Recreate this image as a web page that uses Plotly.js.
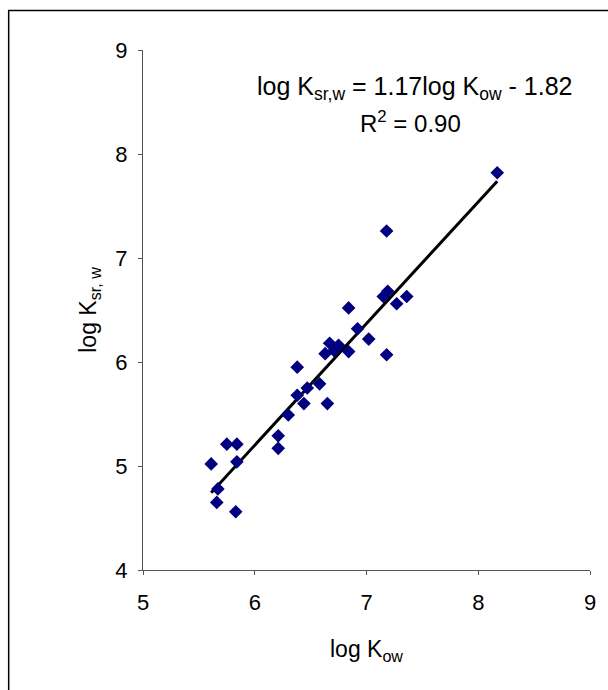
<!DOCTYPE html>
<html>
<head>
<meta charset="utf-8">
<script src="https://cdn.plot.ly/plotly-3.0.1.min.js"></script>
<style>html,body{margin:0;padding:0;background:#fff;}#chart{width:608px;height:690px;}</style>
</head>
<body>
<div id="chart"></div>
<script>
// log Kow (x) and log Ksr,w (y)
var logKow = [5.61, 5.67, 5.66, 5.75, 5.84, 5.84, 5.83, 6.21, 6.21, 6.30, 6.38, 6.38, 6.44, 6.47, 6.58, 6.65, 6.63, 6.67, 6.75, 6.71, 6.84, 6.84, 6.92, 7.02, 7.18, 7.15, 7.19, 7.18, 7.27, 7.36, 8.17];
var logKsrw = [5.02, 4.78, 4.65, 5.21, 5.21, 5.04, 4.56, 5.29, 5.17, 5.49, 5.95, 5.68, 5.60, 5.75, 5.79, 5.60, 6.08, 6.18, 6.16, 6.11, 6.10, 6.52, 6.32, 6.22, 6.07, 6.63, 6.68, 7.26, 6.56, 6.63, 7.82];
var slope = 1.17, intercept = -1.82;
var xTicks = [5, 6, 7, 8, 9];
var yTicks = [4, 5, 6, 7, 8, 9];

var xmin = Math.min.apply(null, logKow), xmax = Math.max.apply(null, logKow);
var fitX = [xmin, xmax];
var fitY = fitX.map(function (v) { return slope * v + intercept; });

var font = "Liberation Sans, Arial, sans-serif";
var traces = [
  {x: fitX, y: fitY, mode: 'lines', type: 'scatter', line: {color: '#000', width: 3}, hoverinfo: 'skip'},
  {x: logKow, y: logKsrw, mode: 'markers', type: 'scatter',
   marker: {symbol: 'diamond', color: '#000080', size: 10.5, line: {width: 0}}}
];

var axisCommon = {
  showgrid: false, zeroline: false, showline: true, linecolor: '#555', linewidth: 1,
  ticks: 'outside', ticklen: 4, tickcolor: '#555', tickwidth: 1,
  tickfont: {family: font, size: 22, color: '#000'}, fixedrange: true
};

var layout = {
  width: 608, height: 690,
  margin: {l: 142.5, r: 18, t: 50, b: 119.7},
  paper_bgcolor: '#fff', plot_bgcolor: '#fff',
  showlegend: false,
  xaxis: Object.assign({}, axisCommon, {
    range: [5, 9], tickvals: xTicks, ticktext: xTicks.map(String),
    ticklabelstandoff: 9,
    title: {text: 'log K<sub>ow</sub>', font: {family: font, size: 23, color: '#000'}, standoff: 26}
  }),
  yaxis: Object.assign({}, axisCommon, {
    range: [4, 9], tickvals: yTicks, ticktext: yTicks.map(String),
    ticklabelstandoff: 6,
    title: {text: 'log K<sub>sr, w</sub>', font: {family: font, size: 23, color: '#000'}, standoff: 12}
  }),
  annotations: [
    {xref: 'x', yref: 'y', x: 7.435, y: 8.63, showarrow: false,
     text: 'log K<sub>sr,w</sub> = 1.17log K<sub>ow</sub> - 1.82',
     font: {family: font, size: 25, color: '#000'}},
    {xref: 'x', yref: 'y', x: 7.39, y: 8.31, showarrow: false,
     text: 'R<sup>2</sup> = 0.90',
     font: {family: font, size: 24, color: '#000'}}
  ],
  shapes: [
    {type: 'rect', xref: 'paper', yref: 'paper', x0: -0.3005, y0: -0.4, x1: 1.2, y1: 1.0758,
     line: {color: '#000', width: 1.5}, fillcolor: 'rgba(0,0,0,0)', layer: 'below'}
  ]
};

Plotly.newPlot('chart', traces, layout, {displayModeBar: false, staticPlot: true});
</script>
</body>
</html>
